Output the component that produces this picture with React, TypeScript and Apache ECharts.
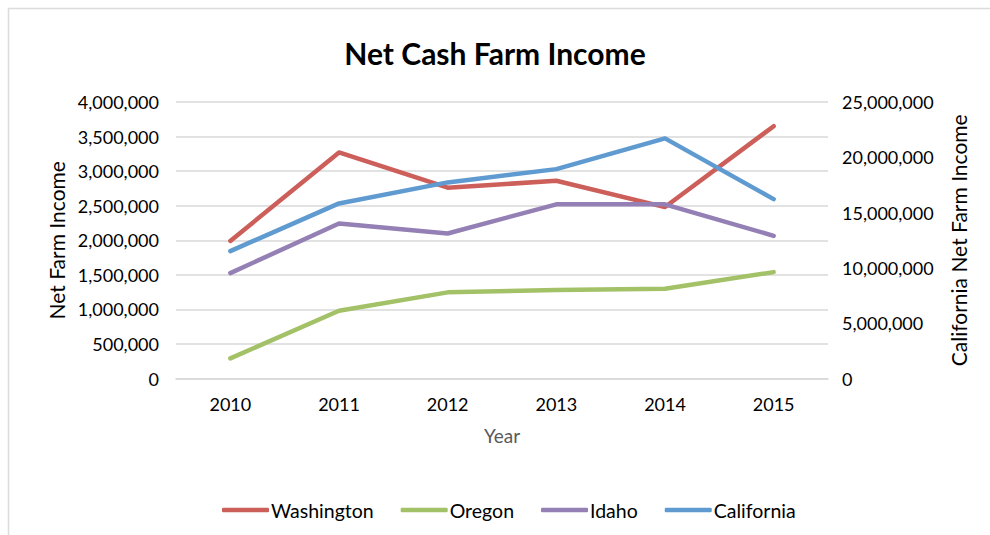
import React, { useEffect, useRef } from "react";
import * as echarts from "echarts";

const years = ["2010", "2011", "2012", "2013", "2014", "2015"];
const washington = [1990000, 3270000, 2760000, 2860000, 2480000, 3650000];
const oregon = [292000, 980000, 1246000, 1279000, 1298000, 1539000];
const idaho = [1525000, 2243000, 2098000, 2520000, 2520000, 2064000];
const california = [11520000, 15830000, 17730000, 18930000, 21710000, 16220000];

const FONT = "Lato";
const fmt = (v: number) => v.toLocaleString("en-US");

export default function App() {
  const ref = useRef<HTMLDivElement>(null);
  useEffect(() => {
    if (!ref.current) return;
    const chart = echarts.init(ref.current, null, { renderer: "svg" });
    const lineSeries = (name: string, data: number[], color: string, yAxisIndex = 0) => ({
      name,
      type: "line",
      data,
      yAxisIndex,
      symbol: "none",
      lineStyle: { color, width: 4.5, cap: "round", join: "round" },
      itemStyle: { color },
    });
    chart.setOption({
      animation: false,
      backgroundColor: "#ffffff",
      textStyle: { fontFamily: FONT },
      title: {
        text: "Net Cash Farm Income",
        left: "center",
        top: 33,
        textStyle: { fontFamily: FONT, fontWeight: "bold", fontSize: 30, color: "#000" },
      },
      graphic: [
        {
          type: "rect",
          shape: { x: 8.5, y: 8.5, width: 1000, height: 600 },
          style: { fill: "none", stroke: "#dcdcdc", lineWidth: 1.5 },
          silent: true,
        },
      ],
      legend: {
        left: 217,
        top: 495,
        icon: "roundRect",
        itemWidth: 47,
        itemHeight: 4.5,
        itemGap: 27,
        textStyle: { fontFamily: FONT, fontSize: 19.5, color: "#000", padding: [0, 0, 0, -3] },
        data: ["Washington", "Oregon", "Idaho", "California"],
      },
      grid: { left: 176, right: 162, top: 102, bottom: 156.5 },
      xAxis: {
        type: "category",
        data: years,
        boundaryGap: true,
        name: "Year",
        nameLocation: "middle",
        nameGap: 47,
        nameTextStyle: { fontFamily: FONT, fontSize: 19, color: "#595959" },
        axisLine: { show: true, lineStyle: { color: "#d9d9d9", width: 1.5 } },
        axisTick: { show: false },
        axisLabel: { fontFamily: FONT, fontSize: 18, color: "#000", margin: 16 },
      },
      yAxis: [
        {
          type: "value",
          min: 0,
          max: 4000000,
          interval: 500000,
          name: "Net Farm Income",
          nameLocation: "middle",
          nameRotate: 90,
          nameGap: 108,
          nameTextStyle: { fontFamily: FONT, fontSize: 21, color: "#000" },
          axisLine: { show: false },
          axisTick: { show: false },
          axisLabel: { fontFamily: FONT, fontSize: 18, color: "#000", margin: 17, formatter: fmt },
          splitLine: { show: true, lineStyle: { color: "#d9d9d9", width: 1.5 } },
        },
        {
          type: "value",
          min: 0,
          max: 25000000,
          interval: 5000000,
          position: "right",
          name: "California Net Farm Income",
          nameLocation: "middle",
          nameRotate: 90,
          nameGap: 120,
          nameTextStyle: { fontFamily: FONT, fontSize: 21, color: "#000" },
          axisLine: { show: false },
          axisTick: { show: false },
          axisLabel: { fontFamily: FONT, fontSize: 18, color: "#000", margin: 14, formatter: fmt },
          splitLine: { show: false },
        },
      ],
      series: [
        lineSeries("Washington", washington, "#cd5f5a"),
        lineSeries("Oregon", oregon, "#a3c167"),
        lineSeries("Idaho", idaho, "#9480b4"),
        lineSeries("California", california, "#5f9bd0", 1),
      ],
    });
    return () => chart.dispose();
  }, []);
  return (
    <div
      ref={ref}
      style={{ position: "fixed", left: 0, top: 0, width: 990, height: 535 }}
    />
  );
}
